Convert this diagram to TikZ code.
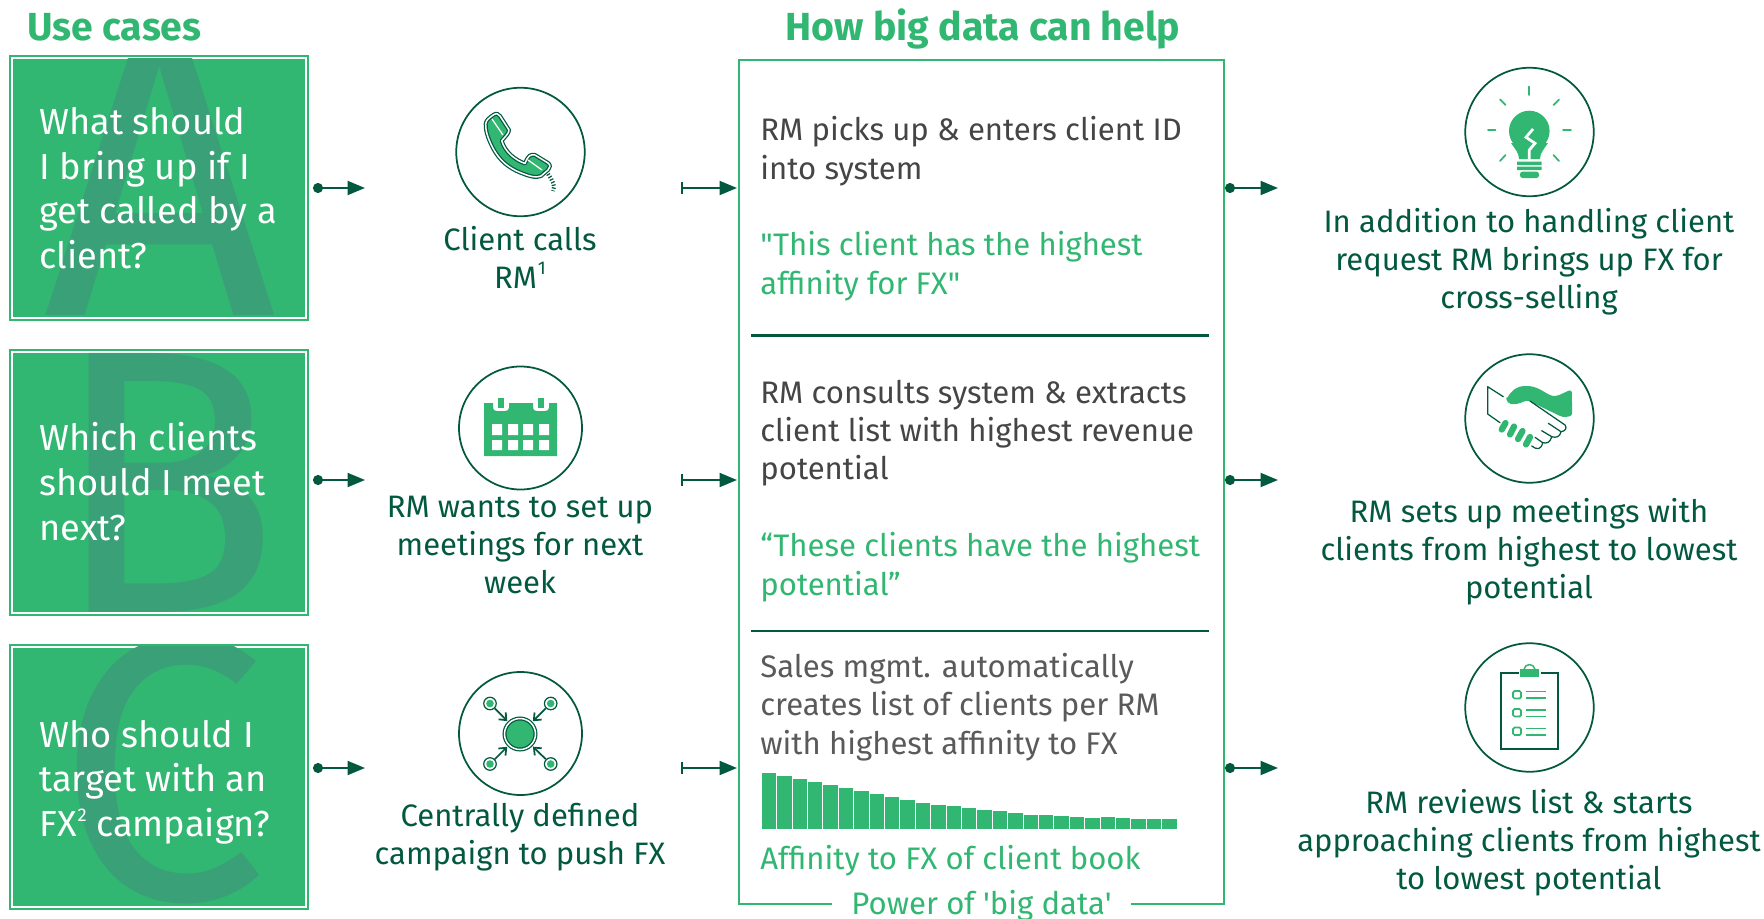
\documentclass[tikz,border=0pt]{standalone}
\usepackage{fontspec}
\setmainfont{Fira Sans}[Ligatures=TeXOff]
\usepackage{tikz}
\usetikzlibrary{arrows.meta}
\definecolor{bcggreen}{HTML}{32B772}
\definecolor{bcgdark}{HTML}{03593F}
\definecolor{bcgletter}{HTML}{3AA077}
\definecolor{bcggrey}{HTML}{454545}
\definecolor{bcggreyb}{HTML}{5A5A5A}
\newcommand{\supnum}[1]{\kern.5pt\raisebox{.42em}{\fontsize{10.5}{10.5}\selectfont #1}}
\tikzset{
    usebox/.style={draw=bcggreen,fill=bcggreen,double=white,line width=.4mm,double distance=.4mm,minimum width=58.6mm,inner sep=0pt,outer sep=0pt},
    useletter/.style={text=bcgletter,font=\fontsize{214}{214}\selectfont,inner sep=0pt,anchor=base},
    usetext/.style={text=white,font=\fontsize{20.6}{25.4}\selectfont,align=left,anchor=base west,inner sep=0pt},
    heading/.style={text=bcggreen,font=\fontsize{22.3}{24}\selectfont\bfseries,inner sep=0pt,anchor=base},
    iconring/.style={circle,draw=bcgdark,line width=.35mm,inner sep=0pt},
    darktext/.style={text=bcgdark,font=\fontsize{17.65}{21.6}\selectfont,align=center,anchor=base,inner sep=0pt},
    midtext/.style={text=bcggrey,font=\fontsize{17.7}{21.7}\selectfont,align=left,anchor=base west,inner sep=0pt},
    quotetext/.style={midtext,text=bcggreen},
    flowdot/.style={draw=bcgdark,line width=.4mm,{Circle[length=2mm]}-{Triangle[length=3.5mm,width=2.8mm]}},
    flowbar/.style={draw=bcgdark,line width=.4mm,{Bar[width=2.4mm,line width=.4mm]}-{Triangle[length=3.5mm,width=2.8mm]}},
    gline/.style={draw=bcggreen,line width=.35mm,line cap=round},
    phoneline/.style={draw=bcgdark,fill=bcggreen,line width=.25mm,double=white,double distance=.3mm,line join=round},
    hubarrow/.style={draw=bcgdark,line width=.35mm,-{Straight Barb[length=1.2mm,width=2mm]},shorten >=.4mm},
}
\begin{document}
\begin{tikzpicture}[x=.2mm,y=-.2mm]
    \useasboundingbox (0,0) rectangle (1764,919);

    \node[heading,anchor=base west] (usehead) at (27,40) {Use cases};
    \node[heading] (helphead) at (983,40) {How big data can help};

    % left boxes
    \node[usebox,minimum height=51.8mm] (boxa) at (159,188) {};
    \node[usebox,minimum height=52.2mm] (boxb) at (159,482) {};
    \node[usebox,minimum height=52mm] (boxc) at (159,776.5) {};
    \begin{scope}
        \clip (boxa.north west) rectangle (boxa.south east);
        \node[useletter,font=\fontsize{232}{232}\selectfont] (lettera) at (160,315) {A};
    \end{scope}
    \begin{scope}
        \clip (boxb.north west) rectangle (boxb.south east);
        \node[useletter] (letterb) at (166,612) {B};
    \end{scope}
    \begin{scope}
        \clip (boxc.north west) rectangle (boxc.south east);
        \node[useletter] (letterc) at (162,899) {C};
    \end{scope}
    \node[usetext] (texta) at (39,268.5) {What should\\I bring up if I\\get called by a\\client?};
    \node[usetext] (textb) at (39,540) {Which clients\\should I meet\\next?};
    \node[usetext] (textc) at (39,836.5) {Who should I\\target with an\\FX\supnum{2} campaign?};

    % icons, second column
    \node[iconring,minimum size=25.7mm] (icona) at (520.5,152) {};
    \node[iconring,minimum size=24.6mm] (iconb) at (520.5,428) {};
    \node[iconring,minimum size=24.6mm] (iconc) at (520.5,733.5) {};
    \node[darktext] (labela) at (520,288) {Client calls\\RM\supnum{1}};
    \node[darktext] (labelb) at (520,593.5) {RM wants to set up\\meetings for next\\week};
    \node[darktext] (labelc) at (520,864) {Centrally defined\\campaign to push FX};

    % phone
    \draw[phoneline] (485.7,124) .. controls (486,120) and (489,118) .. (494,114.5) .. controls (497,113) and (498,114) .. (500,116) -- (509,130) .. controls (509,133) and (506,136) .. (501.7,140.7) .. controls (505,152) and (515,160) .. (525,163.5) .. controls (528,156) and (530,154) .. (535,155) -- (548,163) .. controls (551,165) and (550,168) .. (548,170) -- (541,176) .. controls (536,178) and (530,177) .. (516,170.7) .. controls (505,165) and (497,158) .. (490,142) .. controls (487,135) and (485.5,130) .. (485.7,124) -- cycle;
    \draw[white,line width=.25mm] (492,119) -- (503,135);
    \draw[white,line width=.25mm] (528,160) -- (542,170);
    \draw[bcgdark,line width=.8mm,dash pattern=on .25mm off .35mm] (548,174) .. controls (552,180) and (556,186) .. (553,191);

    % calendar
    \fill[bcggreen] (484,403) -- (493,403) -- (493,408) .. controls (493,410) and (495,411) .. (497,411) -- (505,411) .. controls (507,411) and (509,410) .. (509,408) -- (509,403) -- (533,403) -- (533,408) .. controls (533,410) and (535,411) .. (537,411) -- (545,411) .. controls (547,411) and (549,410) .. (549,408) -- (549,403) -- (557,403) -- (557,456) -- (484,456) -- cycle;
    \fill[bcggreen] (497.5,398) rectangle (503.5,408);
    \fill[bcggreen] (537.5,398) rectangle (543.5,408);
    \fill[white] (492,424) rectangle (502,435) (508,424) rectangle (518,435) (523,424) rectangle (533,435) (539,424) rectangle (549,435);
    \fill[white] (492,440) rectangle (502,450) (508,440) rectangle (518,450) (523,440) rectangle (533,450) (539,440) rectangle (549,450);

    % campaign network
    \node[circle,draw=bcgdark,fill=bcggreen,double=white,line width=.25mm,double distance=.3mm,minimum size=6.2mm,inner sep=0pt] (hub) at (520,734) {};
    \node[circle,draw=bcgdark,line width=.25mm,minimum size=2.5mm,inner sep=0pt] (sata) at (490,703.5) {};
    \node[circle,draw=bcgdark,line width=.25mm,minimum size=2.5mm,inner sep=0pt] (satb) at (550.7,703.5) {};
    \node[circle,draw=bcgdark,line width=.25mm,minimum size=2.5mm,inner sep=0pt] (satc) at (490,764) {};
    \node[circle,draw=bcgdark,line width=.25mm,minimum size=2.5mm,inner sep=0pt] (satd) at (550.7,764) {};
    \fill[bcggreen] (sata) circle [radius=3.8] (satb) circle [radius=3.8] (satc) circle [radius=3.8] (satd) circle [radius=3.8];
    \draw[hubarrow] (sata) -- (hub);
    \draw[hubarrow] (satb) -- (hub);
    \draw[hubarrow] (satc) -- (hub);
    \draw[hubarrow] (satd) -- (hub);

    % middle box
    \node[draw=bcggreen,line width=.45mm,minimum width=97mm,minimum height=168.8mm,inner sep=0pt] (boxmid) at (981.5,482) {};
    \node[quotetext,fill=white,inner xsep=3.8mm,inner ysep=0pt,anchor=base] (power) at (981.5,914) {Power of 'big data'};
    \draw[bcgdark,line width=.45mm] (751,335.5) -- (1209,335.5);
    \draw[bcgdark,line width=.45mm] (751,631) -- (1209,631);
    \node[midtext] (stepa) at (760,179) {RM picks up \& enters client ID\\into system};
    \node[quotetext] (quotea) at (760,294) {"This client has the highest\\affinity for FX"};
    \node[midtext] (stepb) at (760,479.5) {RM consults system \& extracts\\client list with highest revenue\\potential};
    \node[quotetext] (quoteb) at (760,595) {“These clients have the highest\\potential”};
    \node[midtext,text=bcggreyb] (stepc) at (760,754) {Sales mgmt. automatically\\creates list of clients per RM\\with highest affinity to FX};
    \node[quotetext] (bookc) at (760,869) {Affinity to FX of client book};

    % bars of the client book
    \fill[bcggreen,draw=white,line width=.12mm]
        (761,772) rectangle (776.4,829) (776.4,775) rectangle (791.8,829)
        (791.8,778) rectangle (807.2,829) (807.2,781) rectangle (822.6,829)
        (822.6,784) rectangle (838,829) (838,787) rectangle (853.4,829)
        (853.4,790) rectangle (868.8,829) (868.8,793) rectangle (884.2,829)
        (884.2,796) rectangle (899.6,829) (899.6,799) rectangle (915,829)
        (915,802) rectangle (930.4,829) (930.4,804) rectangle (945.8,829)
        (945.8,805.7) rectangle (961.2,829) (961.2,807.3) rectangle (976.6,829)
        (976.6,809) rectangle (992,829) (992,810.7) rectangle (1007.4,829)
        (1007.4,812.7) rectangle (1022.8,829) (1022.8,814) rectangle (1038.2,829)
        (1038.2,814.7) rectangle (1053.6,829) (1053.6,815.3) rectangle (1069,829)
        (1069,816.7) rectangle (1084.4,829) (1084.4,817) rectangle (1099.8,829)
        (1099.8,816.3) rectangle (1115.2,829) (1115.2,817.7) rectangle (1130.6,829)
        (1130.6,818) rectangle (1146,829) (1146,818) rectangle (1161.4,829)
        (1161.4,818.7) rectangle (1177,829);

    % icons, right column
    \node[iconring,minimum size=25.7mm] (iconr) at (1529.5,132) {};
    \node[iconring,minimum size=25.7mm] (icons) at (1529.5,418.5) {};
    \node[iconring,minimum size=25.7mm] (icont) at (1529.5,707.5) {};
    \node[darktext] (resulta) at (1529,308) {In addition to handling client\\request RM brings up FX for\\cross-selling};
    \node[darktext] (resultb) at (1529,598) {RM sets up meetings with\\clients from highest to lowest\\potential};
    \node[darktext] (resultc) at (1529,889) {RM reviews list \& starts\\approaching clients from highest\\to lowest potential};

    % bulb
    \fill[bcggreen] (1529.3,131) circle [radius=20.3];
    \fill[bcggreen] (1511,143) .. controls (1515,149) and (1519,153) .. (1519,159) -- (1540,159) .. controls (1540,153) and (1544,149) .. (1548,143) -- cycle;
    \fill[bcggreen] (1517,161.7) rectangle (1541.7,165) (1517,166.7) rectangle (1541.7,170);
    \fill[bcggreen,rounded corners=.5mm] (1520,171.7) rectangle (1539,178);
    \draw[white,line width=.55mm] (1533,129) -- (1526,137.3) -- (1535,143.3) -- (1529.3,150) -- (1529.3,159);
    \draw[gline] (1529.3,86.5) -- (1529.3,95);
    \draw[gline] (1500,99.5) -- (1505.5,105);
    \draw[gline] (1559,99.5) -- (1553.5,105);
    \draw[gline] (1488,130) -- (1495.5,130);
    \draw[gline] (1563,130) -- (1571,130);
    \draw[gline] (1505.5,155) -- (1500,161);
    \draw[gline] (1553.5,155) -- (1559,161);

    % handshake
    \fill[bcggreen,rounded corners=.6mm] (1506,400) .. controls (1511,391) and (1517,386) .. (1527,386) .. controls (1540,387) and (1548,396) .. (1557,396) -- (1571.7,389.3) -- (1572.3,416) -- (1562.7,417.3) -- (1527,400) .. controls (1519,404) and (1511,406) .. (1506,400) -- cycle;
    \draw[bcgdark,line width=.25mm,line join=round,line cap=round] (1500,422.7) -- (1487.7,414) -- (1487.7,386.7) -- (1503.3,396.7);
    \draw[bcgdark,line width=.25mm,line join=round,line cap=round] (1530,401) -- (1565,425) .. controls (1567,428) and (1566,431) .. (1561,431.7) -- (1548.3,423.3);
    \draw[bcgdark,line width=.25mm,line join=round,line cap=round] (1561,431.7) .. controls (1560,437) and (1556,438) .. (1551.7,436.7) -- (1541.7,430.7);
    \draw[bcgdark,line width=.25mm,line join=round,line cap=round] (1551.7,436.7) .. controls (1550,443) and (1547,443.5) .. (1542.7,442.7) -- (1535,437.3);
    \draw[bcgdark,line width=.25mm,line join=round,line cap=round] (1542.7,442.7) .. controls (1541,450) and (1537,450) .. (1531.7,446);
    \draw[bcggreen,line width=1.25mm,line cap=round] (1505.5,423) -- (1501.7,429.5);
    \draw[bcggreen,line width=1.25mm,line cap=round] (1514,426.5) -- (1510,434.5);
    \draw[bcggreen,line width=1.25mm,line cap=round] (1522.5,431) -- (1518,439);
    \draw[bcggreen,line width=1.25mm,line cap=round] (1530,437) -- (1526,444.5);

    % clipboard
    \draw[bcgdark,line width=.4mm] (1518.5,672.7) -- (1501,672.7) -- (1501,749.3) -- (1558.3,749.3) -- (1558.3,672.7) -- (1540.5,672.7);
    \fill[bcggreen] (1520,669.3) rectangle (1539,677.3);
    \draw[bcggreen,line width=.3mm] (1524,669.3) .. controls (1525,663) and (1534,663) .. (1535,669.3);
    \draw[bcggreen,line width=.35mm,rounded corners=.3mm] (1513,691) rectangle (1521,698.5) (1513,709) rectangle (1521,716.5) (1513,727.5) rectangle (1521,735);
    \draw[bcggreen,line width=.3mm] (1526,691.3) -- (1546,691.3) (1526,698) -- (1546,698) (1526,710) -- (1546,710) (1526,716.7) -- (1546,716.7) (1526,728.3) -- (1546,728.3) (1526,735) -- (1546,735);

    % arrows
    \coordinate (outa) at (313,188);
    \coordinate (outb) at (313,480);
    \coordinate (outc) at (313,768);
    \coordinate (tipa) at (365,188);
    \coordinate (tipb) at (365,480);
    \coordinate (tipc) at (365,768);
    \coordinate (barta) at (681,188);
    \coordinate (bartb) at (681,480);
    \coordinate (bartc) at (681,768);
    \coordinate (ina) at (737,188);
    \coordinate (inb) at (737,480);
    \coordinate (inc) at (737,768);
    \coordinate (lefta) at (1225,188);
    \coordinate (leftb) at (1225,480);
    \coordinate (leftc) at (1225,768);
    \coordinate (enda) at (1278,188);
    \coordinate (endb) at (1278,480);
    \coordinate (endc) at (1278,768);
    \draw[flowdot] (outa) -- (tipa);
    \draw[flowdot] (outb) -- (tipb);
    \draw[flowdot] (outc) -- (tipc);
    \draw[flowbar] (barta) -- (ina);
    \draw[flowbar] (bartb) -- (inb);
    \draw[flowbar] (bartc) -- (inc);
    \draw[flowdot] (lefta) -- (enda);
    \draw[flowdot] (leftb) -- (endb);
    \draw[flowdot] (leftc) -- (endc);
\end{tikzpicture}
\end{document}
